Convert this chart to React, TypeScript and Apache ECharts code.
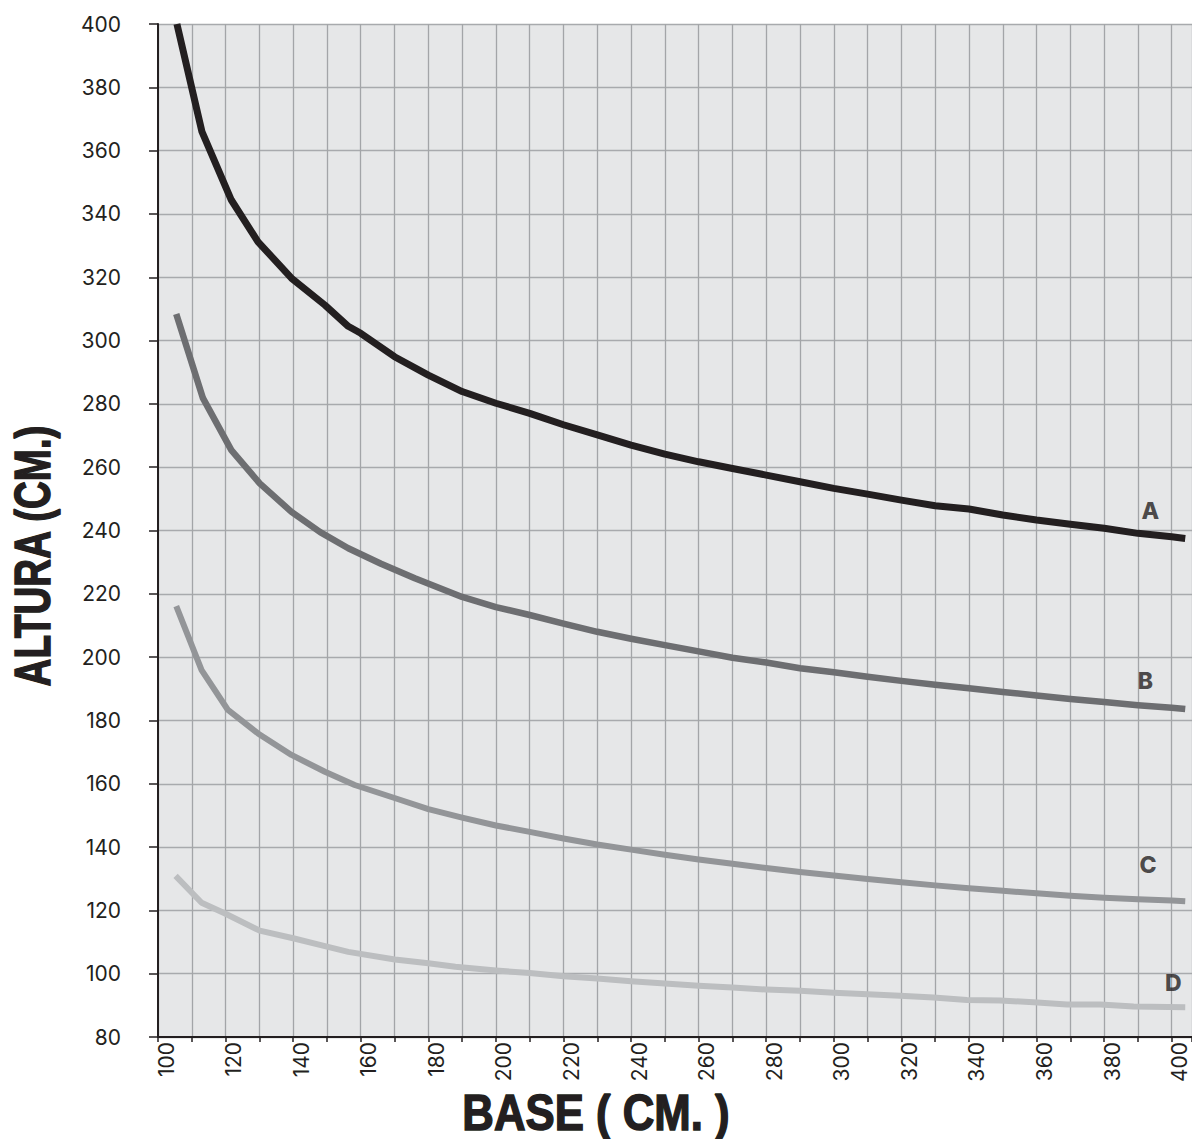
import React, { useEffect, useRef } from "react";
import * as echarts from "echarts";

// ---- data ----
const xTickLabels = [100, 120, 140, 160, 180, 200, 220, 240, 260, 280, 300, 320, 340, 360, 380, 400];
const yTickLabels = [80, 100, 120, 140, 160, 180, 200, 220, 240, 260, 280, 300, 320, 340, 360, 380, 400];

const curveA: [number, number][] = [
  [105.6, 400], [113, 366], [121.7, 344.4], [129.6, 331.2], [139.5, 319.7], [149.4, 311.2],
  [156.3, 304.5], [160, 302.3], [170, 294.9], [180, 289.1], [190, 283.9], [200, 280.2],
  [210, 277.0], [220, 273.4], [230, 270.2], [240, 267.0], [250, 264.1], [260, 261.7],
  [270, 259.6], [280, 257.5], [290, 255.4], [300, 253.3], [310, 251.5], [320, 249.6],
  [330, 247.8], [340, 246.8], [350, 244.9], [360, 243.3], [370, 242.0], [380, 240.7],
  [390, 239.1], [400, 238.0], [404, 237.5],
];
const curveB: [number, number][] = [
  [105.4, 308.4], [113.3, 281.8], [121.7, 265.4], [130.1, 254.9], [139.5, 245.9], [148, 239.5],
  [156.3, 234.4], [166, 229.5], [176, 224.9], [190, 219.0], [200, 215.8], [210, 213.3],
  [220, 210.6], [230, 208.0], [240, 205.8], [250, 203.8], [260, 201.8], [270, 199.8],
  [280, 198.3], [290, 196.5], [300, 195.2], [310, 193.8], [320, 192.5], [330, 191.3],
  [340, 190.2], [350, 189.0], [360, 187.9], [370, 186.8], [380, 185.8], [390, 184.8],
  [400, 184.0], [404, 183.6],
];
const curveC: [number, number][] = [
  [105.4, 216.1], [112.9, 195.9], [120.7, 183.3], [129.6, 175.9], [139.5, 169.1], [149.4, 163.8],
  [158.2, 159.6], [170, 155.5], [180, 152.0], [190, 149.3], [200, 146.8], [210, 144.8],
  [220, 142.7], [230, 140.8], [240, 139.2], [250, 137.6], [260, 136.1], [270, 134.7],
  [280, 133.4], [290, 132.1], [300, 131.0], [310, 129.9], [320, 128.9], [330, 127.9],
  [340, 127.0], [350, 126.2], [360, 125.4], [370, 124.6], [380, 124.0], [390, 123.5],
  [400, 123.1], [404, 122.9],
];
const curveD: [number, number][] = [
  [105.2, 130.9], [112.9, 122.4], [119.7, 119.1], [130.1, 113.6], [140, 111.2], [149.4, 108.7],
  [156.3, 106.9], [170.1, 104.5], [180, 103.3], [188, 102.2], [200, 101.0], [210, 100.2],
  [220, 99.2], [230, 98.5], [240, 97.6], [250, 96.9], [260, 96.2], [270, 95.6],
  [280, 95.0], [290, 94.6], [300, 94.0], [310, 93.5], [319.6, 93.0], [329.5, 92.5],
  [339.4, 91.7], [349.2, 91.5], [359.1, 91.0], [369, 90.3], [378.9, 90.3], [388.7, 89.6],
  [404, 89.4],
];
const curveNames = ["A", "B", "C", "D"];
const curveLabelPos: [number, number][] = [
  [393.7, 246.3], [392.2, 192.5], [393, 134.3], [400.5, 97.0],
];
const xTitle = "BASE ( CM. )";
const yTitle = "ALTURA (CM.)";

const colors = ["#231f20", "#6d6e71", "#939598", "#bcbec0"];
const widths = [7, 6.5, 6, 6];

export default function App() {
  const ref = useRef<HTMLDivElement>(null);
  useEffect(() => {
    document.body.style.margin = "0";
    if (!ref.current) return;
    const chart = echarts.init(ref.current, undefined, { renderer: "svg" });
    const curves = [curveA, curveB, curveC, curveD];
    const tickFont = "Inter, 'Liberation Sans', Arial, sans-serif";
    const titleFont = "'Liberation Sans', Arial, sans-serif";
    chart.setOption({
      animation: false,
      backgroundColor: "#ffffff",
      grid: {
        left: 158,
        right: 0,
        top: 24,
        bottom: 102,
        show: true,
        backgroundColor: "#e6e7e8",
        borderWidth: 0,
        containLabel: false,
        outerBoundsMode: "none",
      },
      graphic: [
        {
          type: "text",
          x: 596,
          y: 1112,
          scaleX: 0.875,
          silent: true,
          style: {
            text: xTitle,
            fontFamily: titleFont,
            fontWeight: "bold",
            fontSize: 50,
            fill: "#231f20",
            stroke: "#231f20",
            lineWidth: 1.5,
            align: "center",
            verticalAlign: "middle",
          },
        },
        {
          type: "text",
          x: 33,
          y: 556,
          rotation: Math.PI / 2,
          scaleX: 0.77,
          silent: true,
          style: {
            text: yTitle,
            fontFamily: titleFont,
            fontWeight: "bold",
            fontSize: 50,
            fill: "#231f20",
            stroke: "#231f20",
            lineWidth: 1.5,
            align: "center",
            verticalAlign: "middle",
          },
        },
      ],
      xAxis: {
        type: "value",
        min: 100,
        max: 406,
        interval: 10,
        axisLine: { show: true, lineStyle: { color: "#231f20", width: 2 } },
        axisTick: { show: true, length: 5, lineStyle: { color: "#231f20", width: 1.5 } },
        splitLine: { show: true, lineStyle: { color: "#a3a5a8", width: 1.3 } },
        axisLabel: {
          rotate: 90,
          margin: 5,
          verticalAlign: "top",
          lineHeight: 16,
          fontFamily: tickFont,
          fontSize: 21,
          color: "#231f20",
          formatter: (v: number) => (xTickLabels.includes(v) ? String(v) : ""),
        },
      },
      yAxis: {
        type: "value",
        min: 80,
        max: 400,
        interval: 20,
        axisLine: { show: true, lineStyle: { color: "#231f20", width: 2 } },
        axisTick: { show: true, length: 9, lineStyle: { color: "#231f20", width: 1.5 } },
        splitLine: { show: true, lineStyle: { color: "#a8aaad", width: 1.3 } },
        axisLabel: {
          margin: 37,
          fontFamily: tickFont,
          fontSize: 21,
          color: "#231f20",
          formatter: (v: number) => (yTickLabels.includes(v) ? String(v) : ""),
        },
      },
      series: [
        ...curves.map((d, i) => ({
          type: "line",
          name: curveNames[i],
          data: d,
          showSymbol: false,
          symbol: "none",
          clip: false,
          silent: true,
          z: 10 - i,
          lineStyle: { color: colors[i], width: widths[i], cap: "butt", join: "round" },
        })),
        {
          type: "scatter",
          silent: true,
          symbol: "circle",
          symbolSize: 1,
          itemStyle: { color: "rgba(0,0,0,0)" },
          z: 20,
          data: curveLabelPos.map((p, i) => ({ name: curveNames[i], value: p })),
          label: {
            show: true,
            position: "inside",
            formatter: (p: any) => p.name,
            fontFamily: tickFont,
            fontWeight: 800,
            fontSize: 23,
            color: "#231f20",
          },
        },
      ],
    });
    return () => chart.dispose();
  }, []);
  return <div ref={ref} style={{ width: 1192, height: 1139 }} />;
}
